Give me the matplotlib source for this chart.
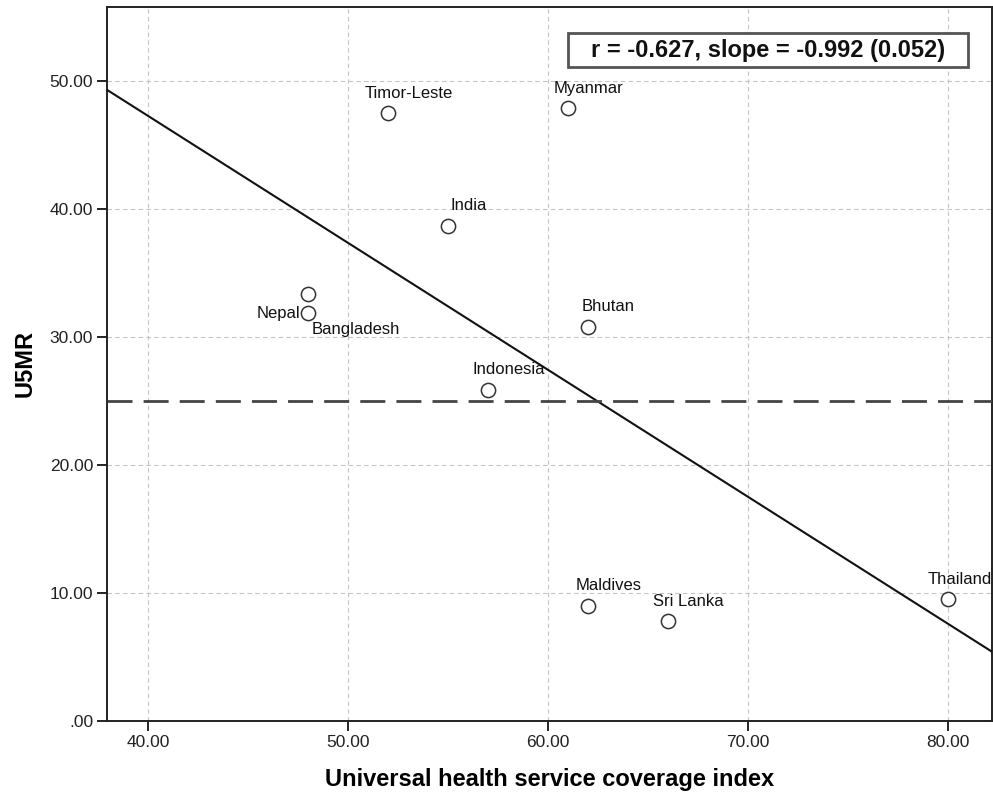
import numpy as np
import matplotlib
matplotlib.use("Agg")
import matplotlib.pyplot as plt
from matplotlib.patches import Rectangle

plt.rcParams['font.family'] = ['Liberation Sans', 'DejaVu Sans']

# country values: UHC service coverage index vs under-5 mortality rate
countries = ['Timor-Leste', 'Myanmar', 'India', 'Nepal', 'Bangladesh', 'Bhutan',
             'Indonesia', 'Maldives', 'Sri Lanka', 'Thailand']
uhc_index = [52, 61, 55, 48, 48, 62, 57, 62, 66, 80]
u5mr = [47.5, 47.9, 38.7, 33.4, 31.9, 30.8, 25.9, 9.0, 7.8, 9.5]

# fitted line and reference level
slope = -0.992
intercept = 86.95
reference_u5mr = 25
stats_text = 'r = -0.627, slope = -0.992 (0.052)'

# label placement in pixels (dx, dy, ha)
label_pos = {
    'Nepal': (-8, -20, 'right'),
    'Bangladesh': (3, -17, 'left'),
    'Thailand': (44, 20, 'right'),
}
default_pos = (20, 20, 'center')

fig = plt.figure(figsize=(9.93, 7.95), dpi=100)
ax = fig.add_axes([0.1078, 0.0931, 0.8913, 0.8981])

xmin, xmax = 37.93, 82.2
ax.set_xlim(xmin, xmax)
ax.set_ylim(0, 55.8)

ax.scatter(uhc_index, u5mr, s=105, facecolors='white', edgecolors='#333333',
           linewidths=1.1, zorder=4)

for name, x, y in zip(countries, uhc_index, u5mr):
    dx, dy, ha = label_pos.get(name, default_pos)
    ax.annotate(name, (x, y), xytext=(dx, dy), textcoords='offset pixels',
                ha=ha, va='center', fontsize=12, color='#111111', zorder=5)

xs = np.array([xmin, xmax])
ax.plot(xs, intercept + slope * xs, color='#111111', lw=1.5, zorder=3)
ax.axhline(reference_u5mr, color='#444444', lw=2, dashes=(9, 4), zorder=3)

ax.set_xticks([40, 50, 60, 70, 80])
ax.set_yticks([0, 10, 20, 30, 40, 50])
ax.set_xticklabels(['40.00', '50.00', '60.00', '70.00', '80.00'])
ax.set_yticklabels(['.00', '10.00', '20.00', '30.00', '40.00', '50.00'])
ax.tick_params(axis='both', direction='out', length=7, width=1.2, pad=3,
               labelsize=12.5, color='black', labelcolor='#222222')
ax.grid(True, color='#c4c4c4', lw=0.8, linestyle=(0, (4, 3)), zorder=0)
for sp in ax.spines.values():
    sp.set_linewidth(1.4)
    sp.set_color('#222222')

ax.set_xlabel('Universal health service coverage index', fontsize=17,
              fontweight='bold', va='center')
ax.xaxis.set_label_coords(0.5, -0.082)
ax.set_ylabel('U5MR', fontsize=17, fontweight='bold', va='center')
ax.yaxis.set_label_coords(-0.093, 0.5)

# statistics box in the top right corner
ax.add_patch(Rectangle((0.521, 0.916), 0.452, 0.0475, transform=ax.transAxes,
                       facecolor='white', edgecolor='#555555', lw=2, zorder=6))
ax.text(0.747, 0.9395, stats_text, transform=ax.transAxes, ha='center',
        va='center', fontsize=17, fontweight='bold', color='#111111', zorder=7)

fig.savefig('out.png', dpi=100)
